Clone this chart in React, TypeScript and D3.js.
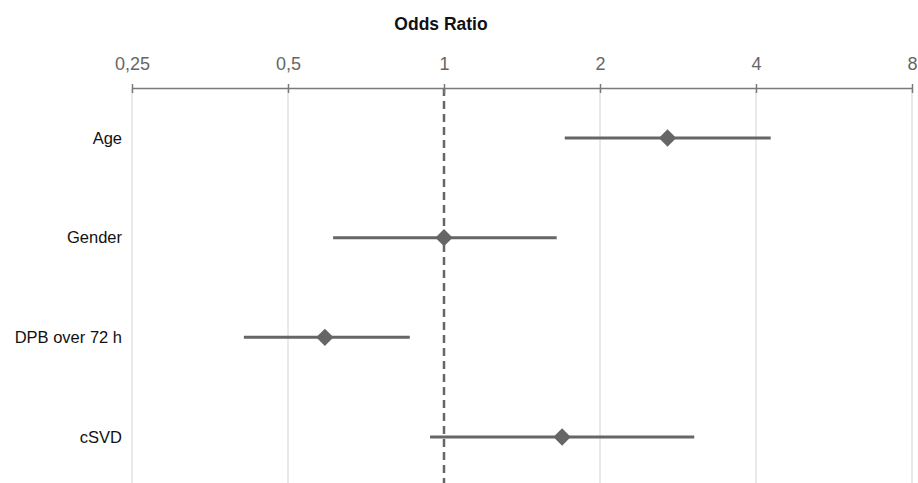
import React, { useEffect, useRef } from 'react';
import * as d3 from 'd3';

// forest plot data (odds ratio + 95% CI)
const labels = ['Age', 'Gender', 'DPB over 72 h', 'cSVD'];
const oddsRatio = [2.70, 1.0, 0.589, 1.69];
const ciLow = [1.71, 0.611, 0.411, 0.94];
const ciHigh = [4.27, 1.65, 0.859, 3.04];
const tickValues = [0.25, 0.5, 1, 2, 4, 8];
const tickLabels = ['0,25', '0,5', '1', '2', '4', '8'];

const W = 918, H = 483;
const FONT = 'Liberation Sans, Arial, sans-serif';

const App = () => {
    const ref = useRef<SVGSVGElement>(null);

    useEffect(() => {
        const svg = d3.select(ref.current);
        svg.selectAll('*').remove();

        const axisY = 88;
        const x = d3.scaleLog().base(2).domain([0.25, 8]).range([132, 912]);
        const y = d3.scalePoint().domain(labels).range([138, 437]);

        // vertical grid lines
        svg.append('g').selectAll('line')
            .data(tickValues.filter(t => t !== 1))
            .enter().append('line')
            .attr('x1', d => x(d)).attr('x2', d => x(d))
            .attr('y1', axisY).attr('y2', H)
            .attr('stroke', '#d4d4d4').attr('stroke-width', 1);

        // reference line at OR = 1
        svg.append('line')
            .attr('x1', x(1)).attr('x2', x(1))
            .attr('y1', axisY).attr('y2', H)
            .attr('stroke', '#666').attr('stroke-width', 2.5)
            .attr('stroke-dasharray', '8,5');

        // top axis
        const axis = d3.axisTop(x)
            .tickValues(tickValues)
            .tickFormat((d, i) => tickLabels[i])
            .tickSize(0)
            .tickPadding(18);
        const g = svg.append('g').attr('transform', `translate(0,${axisY})`).call(axis);
        g.attr('font-size', null).attr('font-family', null);
        g.select('.domain').attr('stroke', '#7a7a7a').attr('stroke-width', 1.5);
        g.selectAll('.tick text')
            .attr('fill', '#666').style('font-size', '18px')
            .style('font-family', FONT);
        g.selectAll('.tick').append('line')
            .attr('y1', -4).attr('y2', 5)
            .attr('stroke', '#7a7a7a').attr('stroke-width', 1.5);

        svg.append('text')
            .attr('x', 441).attr('y', 30)
            .attr('text-anchor', 'middle')
            .style('font-family', FONT)
            .style('font-size', '17.5px').style('font-weight', 'bold')
            .attr('fill', '#111')
            .text('Odds Ratio');

        // row labels
        svg.append('g').selectAll('text')
            .data(labels)
            .enter().append('text')
            .attr('x', 122).attr('y', d => y(d)!)
            .attr('dy', '0.35em')
            .attr('text-anchor', 'end')
            .style('font-family', FONT)
            .style('font-size', '16.5px')
            .attr('fill', '#111')
            .text(d => d);

        // CI whiskers
        svg.append('g').selectAll('line')
            .data(labels)
            .enter().append('line')
            .attr('x1', (d, i) => x(ciLow[i])).attr('x2', (d, i) => x(ciHigh[i]))
            .attr('y1', d => y(d)!).attr('y2', d => y(d)!)
            .attr('stroke', '#666').attr('stroke-width', 3);

        // point estimates
        const diamond = d3.symbol().type(d3.symbolSquare).size(150);
        svg.append('g').selectAll('path')
            .data(labels)
            .enter().append('path')
            .attr('d', diamond)
            .attr('transform', (d, i) => `translate(${x(oddsRatio[i])},${y(d)}) rotate(45)`)
            .attr('fill', '#666');
    }, []);

    return (
        <svg ref={ref} width={W} height={H}
            style={{ position: 'absolute', left: 0, top: 0, background: '#fff' }} />
    );
};

export default App;
